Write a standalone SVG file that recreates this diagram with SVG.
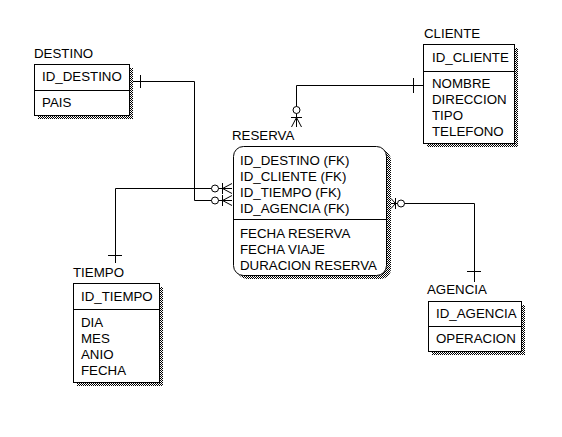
<svg xmlns="http://www.w3.org/2000/svg" width="562" height="437" viewBox="0 0 562 437">
<defs>
<pattern id="hatch" width="2" height="2" patternUnits="userSpaceOnUse">
<rect width="2" height="2" fill="#fff"/>
<rect width="1" height="1" fill="#000"/>
<rect x="1" y="1" width="1" height="1" fill="#000"/>
</pattern>
<style>
.box{fill:#fff;stroke:#000;stroke-width:1}
.sh{fill:url(#hatch);stroke:none}
.dv{stroke:#000;stroke-width:1}
.t{font-family:"Liberation Sans",Arial,sans-serif;font-size:13.3px;fill:#000}
.ln{fill:none;stroke:#000;stroke-width:1}
.circ{fill:#fff;stroke:#000;stroke-width:1}
</style>
</defs>
<rect width="562" height="437" fill="#fff"/>

<g id="connectors">
<!-- DESTINO to RESERVA -->
<polyline class="ln" points="129,81.5 194.5,81.5 194.5,200.5 232,200.5"/>
<line class="ln" x1="140.5" y1="75" x2="140.5" y2="88"/>
<circle class="circ" cx="215" cy="200.5" r="3.5"/>
<line class="ln" x1="222.5" y1="195" x2="222.5" y2="206"/>
<polyline class="ln" points="232,195.5 222.5,200.5 232,205.5"/>
<!-- TIEMPO to RESERVA -->
<polyline class="ln" points="115.5,263 115.5,188.5 232,188.5"/>
<line class="ln" x1="108" y1="255.5" x2="122" y2="255.5"/>
<circle class="circ" cx="215" cy="188.5" r="3.5"/>
<line class="ln" x1="222.5" y1="183" x2="222.5" y2="194"/>
<polyline class="ln" points="232,183.5 222.5,188.5 232,193.5"/>
<!-- CLIENTE to RESERVA -->
<polyline class="ln" points="423,85.5 296.5,85.5 296.5,127"/>
<line class="ln" x1="413.5" y1="78" x2="413.5" y2="93"/>
<circle class="circ" cx="296.5" cy="110" r="3.5"/>
<line class="ln" x1="291" y1="117.5" x2="302" y2="117.5"/>
<polyline class="ln" points="291.5,127 296.5,117.5 301.5,127"/>
<!-- AGENCIA to RESERVA -->
<polyline class="ln" points="391,203.5 474.5,203.5 474.5,282"/>
<line class="ln" x1="467" y1="271.5" x2="481" y2="271.5"/>
<circle class="circ" cx="401" cy="203.5" r="3.5"/>
<line class="ln" x1="395.5" y1="198" x2="395.5" y2="209"/>
<polyline class="ln" points="391,198.5 395.5,203.5 391,208.5"/>
</g>

<g id="destino">
<text class="t" x="34" y="58">DESTINO</text>
<rect class="sh" x="38" y="68" width="95" height="51"/>
<rect class="box" x="34.5" y="64.5" width="95" height="51"/>
<line class="dv" x1="34.5" y1="90.5" x2="129.5" y2="90.5"/>
<text class="t" x="42" y="81">ID_DESTINO</text>
<text class="t" x="42" y="107">PAIS</text>
</g>

<g id="cliente">
<text class="t" x="424" y="38">CLIENTE</text>
<rect class="sh" x="427" y="48" width="91" height="99"/>
<rect class="box" x="423.5" y="44.5" width="91" height="99"/>
<line class="dv" x1="423.5" y1="71.5" x2="514.5" y2="71.5"/>
<text class="t" x="432" y="61.5">ID_CLIENTE</text>
<text class="t" x="432" y="87.5">NOMBRE</text>
<text class="t" x="432" y="103.5">DIRECCION</text>
<text class="t" x="432" y="119.5">TIPO</text>
<text class="t" x="432" y="135.5">TELEFONO</text>
</g>

<g id="reserva">
<text class="t" x="232" y="140">RESERVA</text>
<rect class="sh" x="237" y="150" width="154" height="129" rx="10"/>
<rect class="box" x="233.5" y="146.5" width="153" height="129" rx="10"/>
<line class="dv" x1="233.5" y1="219.5" x2="386.5" y2="219.5"/>
<text class="t" x="240" y="165">ID_DESTINO (FK)</text>
<text class="t" x="240" y="181">ID_CLIENTE (FK)</text>
<text class="t" x="240" y="197">ID_TIEMPO (FK)</text>
<text class="t" x="240" y="213">ID_AGENCIA (FK)</text>
<text class="t" x="240" y="238">FECHA RESERVA</text>
<text class="t" x="240" y="254">FECHA VIAJE</text>
<text class="t" x="240" y="270">DURACION RESERVA</text>
</g>

<g id="tiempo">
<text class="t" x="73" y="277">TIEMPO</text>
<rect class="sh" x="77" y="287" width="86" height="99"/>
<rect class="box" x="73.5" y="283.5" width="86" height="99"/>
<line class="dv" x1="73.5" y1="309.5" x2="159.5" y2="309.5"/>
<text class="t" x="81" y="301">ID_TIEMPO</text>
<text class="t" x="81" y="327">DIA</text>
<text class="t" x="81" y="343">MES</text>
<text class="t" x="81" y="359">ANIO</text>
<text class="t" x="81" y="375">FECHA</text>
</g>

<g id="agencia">
<text class="t" x="427" y="294">AGENCIA</text>
<rect class="sh" x="432" y="305" width="93" height="50"/>
<rect class="box" x="428.5" y="301.5" width="93" height="50"/>
<line class="dv" x1="428.5" y1="326.5" x2="521.5" y2="326.5"/>
<text class="t" x="436" y="318">ID_AGENCIA</text>
<text class="t" x="436" y="343">OPERACION</text>
</g>
</svg>
